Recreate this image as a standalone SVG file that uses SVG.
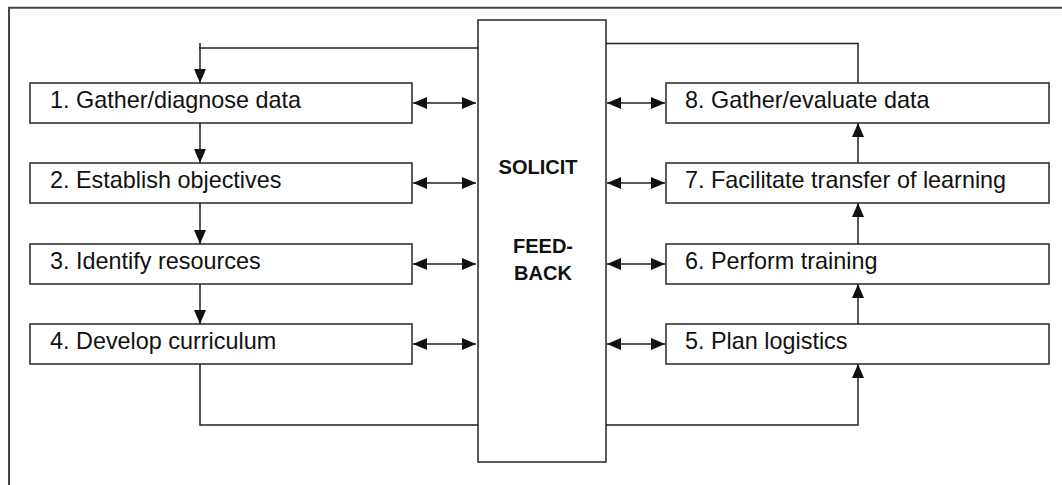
<svg xmlns="http://www.w3.org/2000/svg" width="1062" height="485" viewBox="0 0 1062 485">
<defs>
<style>
.frame{fill:none;stroke:#444;stroke-width:2}
.box{fill:#fff;stroke:#333;stroke-width:1.6}
.ln{fill:none;stroke:#222;stroke-width:1.5}
.t{font-family:"Liberation Sans",Arial,sans-serif;font-size:23.4px;fill:#111}
.b{font-family:"Liberation Sans",Arial,sans-serif;font-size:20px;font-weight:bold;fill:#111;text-anchor:middle}
</style>
<marker id="ah" markerUnits="userSpaceOnUse" markerWidth="14" markerHeight="12" viewBox="0 0 14 12" refX="14" refY="6" orient="auto-start-reverse">
<path d="M0,0 L14,6 L0,12 z" fill="#111"/>
</marker>
</defs>
<rect width="1062" height="485" fill="#fff"/>
<path class="frame" d="M9,485 V7.7 H1062"/>

<g id="center">
<rect class="box" x="478" y="20" width="128" height="442"/>
<text class="b" x="538" y="174">SOLICIT</text>
<text class="b" x="543" y="253">FEED-</text>
<text class="b" x="543" y="280">BACK</text>
</g>

<g id="n1"><rect class="box" x="30" y="83" width="382" height="40"/><text class="t" x="50" y="107.5">1. Gather/diagnose data</text></g>
<g id="n2"><rect class="box" x="30" y="163" width="382" height="40"/><text class="t" x="50" y="187.5">2. Establish objectives</text></g>
<g id="n3"><rect class="box" x="30" y="244" width="382" height="40"/><text class="t" x="50" y="268.5">3. Identify resources</text></g>
<g id="n4"><rect class="box" x="30" y="324" width="382" height="40"/><text class="t" x="50" y="348.5">4. Develop curriculum</text></g>
<g id="n8"><rect class="box" x="666" y="83" width="383" height="40"/><text class="t" x="685" y="107.5">8. Gather/evaluate data</text></g>
<g id="n7"><rect class="box" x="666" y="163" width="383" height="40"/><text class="t" x="685" y="187.5">7. Facilitate transfer of learning</text></g>
<g id="n6"><rect class="box" x="666" y="244" width="383" height="40"/><text class="t" x="685" y="268.5">6. Perform training</text></g>
<g id="n5"><rect class="box" x="666" y="324" width="383" height="40"/><text class="t" x="685" y="348.5">5. Plan logistics</text></g>

<g id="connectors">
<path class="ln" d="M478,48 H199"/>
<path class="ln" d="M200,43 V83" marker-end="url(#ah)"/>
<path class="ln" d="M200,123 V163" marker-end="url(#ah)"/>
<path class="ln" d="M200,203 V244" marker-end="url(#ah)"/>
<path class="ln" d="M200,284 V324" marker-end="url(#ah)"/>
<path class="ln" d="M200,364 V425 H478"/>
<path class="ln" d="M606,425 H858 V364" marker-end="url(#ah)"/>
<path class="ln" d="M858,324 V284" marker-end="url(#ah)"/>
<path class="ln" d="M858,244 V203" marker-end="url(#ah)"/>
<path class="ln" d="M858,163 V123" marker-end="url(#ah)"/>
<path class="ln" d="M606,43.5 H858 V83"/>
<path class="ln" d="M413,103 H476" marker-start="url(#ah)" marker-end="url(#ah)"/>
<path class="ln" d="M413,183 H476" marker-start="url(#ah)" marker-end="url(#ah)"/>
<path class="ln" d="M413,264 H476" marker-start="url(#ah)" marker-end="url(#ah)"/>
<path class="ln" d="M413,344 H476" marker-start="url(#ah)" marker-end="url(#ah)"/>
<path class="ln" d="M607,103 H665" marker-start="url(#ah)" marker-end="url(#ah)"/>
<path class="ln" d="M607,183 H665" marker-start="url(#ah)" marker-end="url(#ah)"/>
<path class="ln" d="M607,264 H665" marker-start="url(#ah)" marker-end="url(#ah)"/>
<path class="ln" d="M607,344 H665" marker-start="url(#ah)" marker-end="url(#ah)"/>
</g>
</svg>
